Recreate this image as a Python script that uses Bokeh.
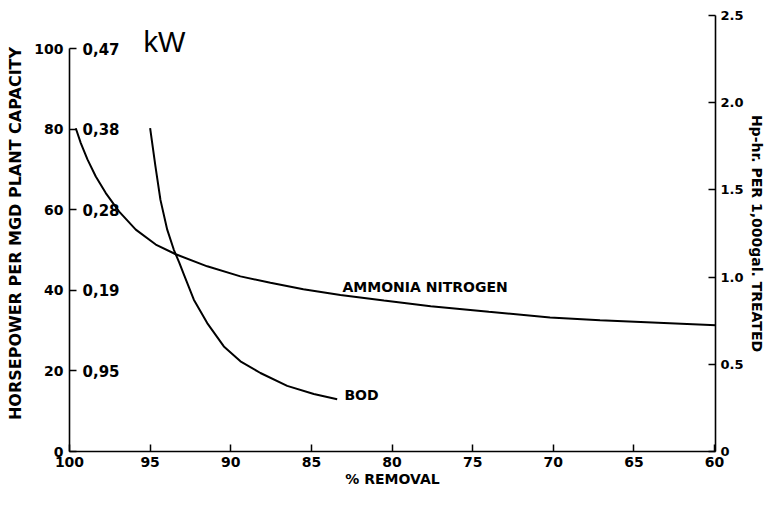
from bokeh.plotting import figure
from bokeh.models import Range1d, LinearAxis, FixedTicker, CustomJSTickFormatter
from bokeh.core.properties import value
from bokeh.embed import file_html
from bokeh.resources import INLINE

# ---- data ----
ammonia_x = [99.61, 99.30, 98.88, 98.37, 97.75, 96.92, 95.89, 94.65, 93.41, 91.46, 89.40, 87.54,
             85.5, 83.2, 80.5, 77.6, 74.0, 70.2, 67.1, 63.5, 59.5]
ammonia_y = [80.3, 76.6, 72.5, 68.3, 64.2, 59.6, 55.1, 51.4, 49.0, 46.0, 43.5, 41.9,
             40.3, 38.9, 37.5, 36.1, 34.7, 33.3, 32.6, 32.0, 31.3]

bod_x = [95.0, 94.67, 94.36, 93.94, 93.53, 93.2, 92.91, 92.29, 91.46, 90.43,
         89.4, 88.16, 86.5, 84.85, 83.4]
bod_y = [80.3, 70.8, 62.5, 55.1, 50.1, 47.0, 44.0, 37.7, 31.9, 26.1,
         22.4, 19.5, 16.3, 14.3, 13.0]

x_ticks = [100, 95, 90, 85, 80, 75, 70, 65, 60]
left_ticks = [0, 20, 40, 60, 80, 100]
right_ticks = [0, 0.5, 1.0, 1.5, 2.0, 2.5]
kw_values = [100, 80, 60, 40, 20]
kw_labels = ["0,47", "0,38", "0,28", "0,19", "0,95"]

curve_label_x = [83.07, 82.95]
curve_label_y = [40.9, 14.0]
curve_labels = ["AMMONIA NITROGEN", "BOD"]

FONT = "DejaVu Sans"

p = figure(width=767, height=490, output_backend="svg", toolbar_location=None,
           x_range=Range1d(100, 59.94), y_range=Range1d(0, 108.3),
           min_border_left=69, min_border_right=51, min_border_top=15, min_border_bottom=39)
p.extra_y_ranges = {"hp": Range1d(0, 2.5)}
p.outline_line_color = None
p.grid.visible = False
p.background_fill_color = "white"
p.border_fill_color = "white"

def style_axis(ax, ticks, tick_size, label_size):
    ax.ticker = FixedTicker(ticks=ticks)
    ax.major_tick_in = 7
    ax.major_tick_out = 0
    ax.minor_tick_line_color = None
    ax.axis_line_width = 1.6
    ax.axis_line_color = "black"
    ax.major_tick_line_width = 1.5
    ax.major_tick_line_color = "black"
    ax.major_label_text_font = FONT
    ax.major_label_text_font_style = "bold"
    ax.major_label_text_font_size = tick_size
    ax.major_label_text_color = "black"
    ax.axis_label_text_font = FONT
    ax.axis_label_text_font_style = "bold"
    ax.axis_label_text_font_size = label_size
    ax.axis_label_text_color = "black"

xa = p.xaxis[0]
style_axis(xa, x_ticks, "14px", "14px")
xa.axis_label = "% REMOVAL"
xa.major_label_standoff = 5
xa.axis_label_standoff = 1

ya = p.yaxis[0]
style_axis(ya, left_ticks, "14px", "16px")
ya.bounds = (0, 100)
ya.axis_label = "HORSEPOWER PER MGD PLANT CAPACITY"
ya.major_label_standoff = 6
ya.axis_label_standoff = 6

ra = LinearAxis(y_range_name="hp")
style_axis(ra, right_ticks, "13px", "14px")
ra.formatter = CustomJSTickFormatter(code="return tick == 0 ? '0' : tick.toFixed(1);")
ra.axis_label = "Hp-hr. PER 1,000gal. TREATED"
ra.major_label_standoff = 5
ra.axis_label_standoff = 2
p.add_layout(ra, "right")

p.line(ammonia_x, ammonia_y, line_color="black", line_width=2)
p.line(bod_x, bod_y, line_color="black", line_width=2)

p.text(x=curve_label_x, y=curve_label_y, text=curve_labels,
       text_font=value(FONT), text_font_style="bold", text_font_size="14px",
       text_align="left", text_baseline="middle", text_color="black")

p.text(x=[100] * len(kw_values), y=kw_values, text=kw_labels, x_offset=13,
       text_font=value(FONT), text_font_style="bold", text_font_size="15px",
       text_align="left", text_baseline="middle", text_color="black")
p.text(x=[100], y=[100], text=["kW"], x_offset=74, y_offset=-7,
       text_font=value("Liberation Sans"), text_font_size="29px",
       text_align="left", text_baseline="middle", text_color="black")

open("out.html", "w").write(file_html(p, INLINE))
